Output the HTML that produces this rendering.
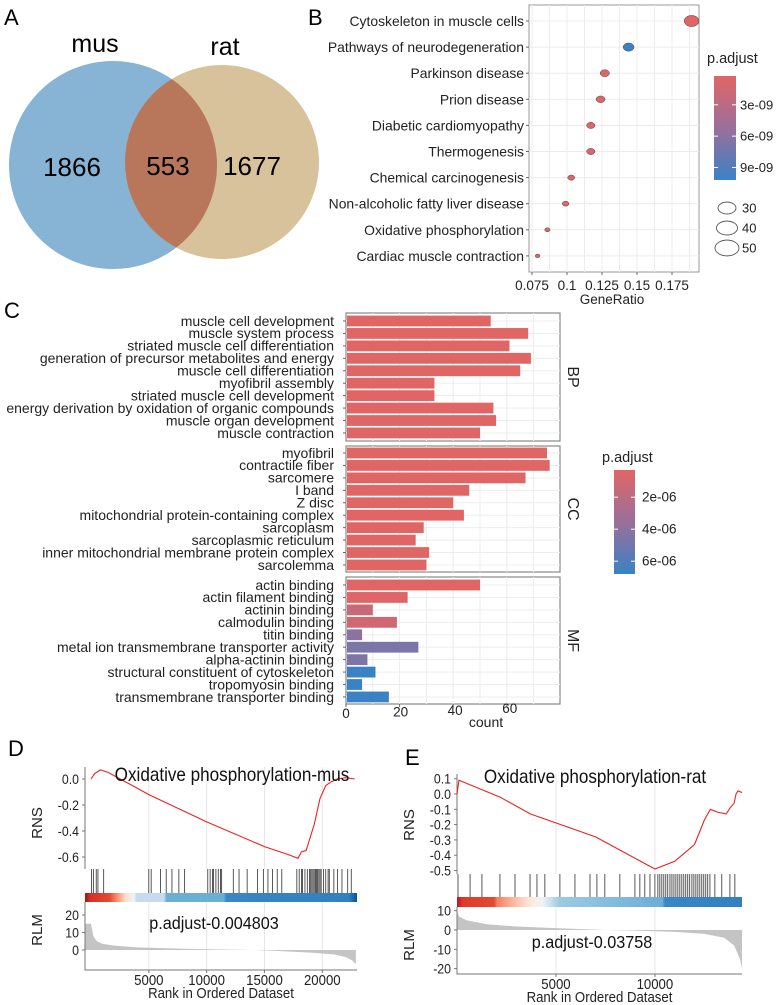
<!DOCTYPE html>
<html><head><meta charset="utf-8"><style>
body{margin:0;background:#fff;}
svg{display:block;font-family:"Liberation Sans",sans-serif;}
</style></head><body>
<svg id="fig" width="777" height="1005" viewBox="0 0 777 1005" xmlns="http://www.w3.org/2000/svg">
<defs>
<linearGradient id="gB" x1="0" y1="0" x2="0" y2="1"><stop offset="0" stop-color="#e06666"/><stop offset="0.5" stop-color="#9a6f9a"/><stop offset="1" stop-color="#3a82c4"/></linearGradient>
<linearGradient id="gD" x1="0" y1="0" x2="1" y2="0">
<stop offset="0" stop-color="#a50f15"/><stop offset="0.02" stop-color="#d73027"/><stop offset="0.09" stop-color="#e34a33"/><stop offset="0.12" stop-color="#fc9272"/><stop offset="0.15" stop-color="#fde0d2"/><stop offset="0.18" stop-color="#eef3f8"/><stop offset="0.19" stop-color="#c6dbef"/><stop offset="0.29" stop-color="#c6dbef"/><stop offset="0.3" stop-color="#6baed6"/><stop offset="0.51" stop-color="#6baed6"/><stop offset="0.52" stop-color="#3b86c4"/><stop offset="0.97" stop-color="#3180c0"/><stop offset="1" stop-color="#08519c"/></linearGradient>
<linearGradient id="gE" x1="0" y1="0" x2="1" y2="0">
<stop offset="0" stop-color="#b2182b"/><stop offset="0.02" stop-color="#e0392b"/><stop offset="0.13" stop-color="#e34a33"/><stop offset="0.14" stop-color="#f47f61"/><stop offset="0.2" stop-color="#fcbba1"/><stop offset="0.26" stop-color="#fde9e0"/><stop offset="0.3" stop-color="#eef3f8"/><stop offset="0.36" stop-color="#9ecae1"/><stop offset="0.72" stop-color="#6baed6"/><stop offset="0.73" stop-color="#3b86c4"/><stop offset="1" stop-color="#3180c0"/></linearGradient>
</defs>

<g>
<text x="4" y="25" font-size="22">A</text>
<circle cx="113" cy="165" r="104" fill="#87b3d4"/>
<circle cx="222" cy="162" r="97" fill="#d7c29b"/>
<clipPath id="cm"><circle cx="113" cy="165" r="104"/></clipPath>
<circle cx="222" cy="162" r="97" fill="#b8775a" clip-path="url(#cm)"/>
<text x="95" y="52" font-size="25" text-anchor="middle">mus</text>
<text x="225" y="55" font-size="25" text-anchor="middle">rat</text>
<text x="72" y="176" font-size="26" text-anchor="middle">1866</text>
<text x="168" y="175" font-size="26" text-anchor="middle">553</text>
<text x="252" y="175" font-size="26" text-anchor="middle">1677</text>
</g>

<text x="308" y="25" font-size="22">B</text>
<text x="4" y="318" font-size="22">C</text>
<text x="8" y="756" font-size="22">D</text>
<text x="405" y="765" font-size="22">E</text>

<g id="pB"></g>
<g id="pC"></g>
<g id="pD"></g>
<g id="pE"></g>
</svg>
<script>
// ---- Panel B data ----
const keggTerms = ["Cytoskeleton in muscle cells","Pathways of neurodegeneration","Parkinson disease","Prion disease","Diabetic cardiomyopathy","Thermogenesis","Chemical carcinogenesis","Non-alcoholic fatty liver disease","Oxidative phosphorylation","Cardiac muscle contraction"];
const keggRatio = [0.189,0.144,0.127,0.124,0.117,0.117,0.103,0.099,0.086,0.079];
const keggCount = [53,41,36,35,33,33,29,28,24,22];
const keggPadj = [0.4e-9,10.2e-9,0.5e-9,0.5e-9,0.5e-9,0.5e-9,0.5e-9,0.6e-9,0.6e-9,0.6e-9];
const keggTicks = [0.075,0.1,0.125,0.15,0.175];
const keggTickLabels = ["0.075","0.1","0.125","0.15","0.175"];
const keggColorTicks = [3e-9,6e-9,9e-9];
const keggColorLabels = ["3e-09","6e-09","9e-09"];
const keggSizeLegend = [30,40,50];

// ---- Panel C data ----
const goBP = ["muscle cell development","muscle system process","striated muscle cell differentiation","generation of precursor metabolites and energy","muscle cell differentiation","myofibril assembly","striated muscle cell development","energy derivation by oxidation of organic compounds","muscle organ development","muscle contraction"];
const goBPCount = [54,68,61,69,65,33,33,55,56,50];
const goBPPadj = [0.3e-6,0.3e-6,0.3e-6,0.3e-6,0.3e-6,0.3e-6,0.3e-6,0.3e-6,0.3e-6,0.3e-6];
const goCC = ["myofibril","contractile fiber","sarcomere","I band","Z disc","mitochondrial protein-containing complex","sarcoplasm","sarcoplasmic reticulum","inner mitochondrial membrane protein complex","sarcolemma"];
const goCCCount = [75,76,67,46,40,44,29,26,31,30];
const goCCPadj = [0.3e-6,0.3e-6,0.3e-6,0.3e-6,0.3e-6,0.3e-6,0.3e-6,0.3e-6,0.3e-6,0.3e-6];
const goMF = ["actin binding","actin filament binding","actinin binding","calmodulin binding","titin binding","metal ion transmembrane transporter activity","alpha-actinin binding","structural constituent of cytoskeleton","tropomyosin binding","transmembrane transporter binding"];
const goMFCount = [50,23,10,19,6,27,8,11,6,16];
const goMFPadj = [0.3e-6,0.4e-6,1.4e-6,1.0e-6,4.0e-6,4.6e-6,4.5e-6,6.8e-6,6.8e-6,6.8e-6];
const goTicks = [0,20,40,60];
const goColorTicks = [2e-6,4e-6,6e-6];
const goColorLabels = ["2e-06","4e-06","6e-06"];

// ---- Panel D data ----
const dRank = [0,300,800,1500,5000,10000,15000,17000,17900,18200,18600,19300,19800,20300,20800,21300,22000,22800];
const dES = [0,0.04,0.07,0.05,-0.12,-0.33,-0.52,-0.58,-0.61,-0.56,-0.55,-0.35,-0.15,-0.05,-0.02,0.0,0.01,0.0];
const dHits = [50,200,450,600,1100,5000,5200,6000,6500,7000,7600,8100,10100,10300,10500,10600,10800,11000,11200,11300,12300,12800,13500,14400,14900,15300,15700,16100,16500,17800,18000,18200,18300,18500,18700,18900,19000,19100,19200,19300,19400,19500,19600,19700,19800,19900,20100,20300,20500,20600,21000,21300,21700,22200,22500];
const dRlmRank = [0,200,500,1000,2000,4000,8000,12000,14000,16000,19000,21000,22000,22600,22900];
const dRlm = [15,8,5,3.5,2.5,1.5,0.7,0.2,0,-0.5,-1.5,-2.5,-4,-6,-8];
const dYTicks = [0.0,-0.2,-0.4,-0.6];
const dYTickLabels = ["0.0","-0.2","-0.4","-0.6"];
const dRlmTicks = [20,10,0];
const dXTicks = [5000,10000,15000,20000];

// ---- Panel E data ----
const eRank = [0,100,2170,3700,7000,10000,11000,12000,12500,12800,13200,13600,13800,14000,14100,14200,14400];
const eES = [0,0.09,-0.02,-0.13,-0.28,-0.49,-0.44,-0.33,-0.17,-0.10,-0.12,-0.13,-0.09,-0.06,0.0,0.02,0.01];
const eHits = [50,660,1260,2170,2930,3690,4040,4440,5200,5960,6720,7070,7470,8230,8990,9240,9490,9750,10000,10150,10250,10350,10450,10550,10650,10760,10860,10960,11060,11160,11260,11360,11460,11560,11660,11760,11870,11970,12070,12170,12270,12370,12470,12570,12670,12780,13030,13380,13790,14040];
const eRlmRank = [0,100,500,1500,3000,5000,7500,9000,11000,12500,13500,14000,14300,14400];
const eRlm = [10,7,5,3,1.8,1,0,-0.3,-1,-2,-4,-8,-15,-20];
const eYTicks = [0.1,0.0,-0.1,-0.2,-0.3,-0.4,-0.5];
const eYTickLabels = ["0.1","0.0","-0.1","-0.2","-0.3","-0.4","-0.5"];
const eRlmTicks = [10,0,-10,-20];
const eXTicks = [5000,10000];

const NS="http://www.w3.org/2000/svg";
function mk(parent, tag, attrs, txt){const e=document.createElementNS(NS,tag);for(const k in attrs)e.setAttribute(k,attrs[k]);if(txt!==undefined)e.textContent=txt;parent.appendChild(e);return e;}
function lerp(a,b,t){return a+(b-a)*t;}
function mixColor(t){t=Math.max(0,Math.min(1,t));const r=[224,102,102],m=[154,111,154],b=[58,130,196];let c;if(t<0.5){const u=t/0.5;c=r.map((v,i)=>lerp(v,m[i],u));}else{const u=(t-0.5)/0.5;c=m.map((v,i)=>lerp(v,b[i],u));}return `rgb(${c.map(Math.round).join(",")})`;}

// ===== Panel B =====
(function(){
const g=document.getElementById('pB');
const L=529,R=699,T=5,B=272;
const x=v=>532+(v-0.075)*1400;
const y=i=>21+i*26.1;
let el=mk(g,'rect',{x:L,y:T,width:R-L,height:B-T,fill:'#fff',stroke:'#999','stroke-width':1});


for(let v=0.0625;v<0.2;v+=0.0125){const xv=x(v);if(xv<L||xv>R)continue;mk(g,'line',{x1:xv,x2:xv,y1:T,y2:B,stroke:'#ececec','stroke-width':1});}
keggTerms.forEach((t,i)=>{mk(g,'line',{x1:L,x2:R,y1:y(i),y2:y(i),stroke:'#ececec'});
 el=mk(g,'text',{x:524,y:y(i)+5,'font-size':13.9,'text-anchor':'end',fill:'#222'},t);
 
 
 mk(g,'line',{x1:L-3,x2:L,y1:y(i),y2:y(i),stroke:'#666'});
});
keggTicks.forEach((v,i)=>{mk(g,'line',{x1:x(v),x2:x(v),y1:B,y2:B+3,stroke:'#666'});
 el=mk(g,'text',{x:x(v),y:290,'font-size':13.5,'text-anchor':'middle',fill:'#222'},keggTickLabels[i]);
 
 });
el=mk(g,'text',{x:612,y:304,'font-size':13.5,'text-anchor':'middle',fill:'#222'},'GeneRatio');


const pTop=0.24e-9,pBot=10.2e-9;
keggRatio.forEach((v,i)=>{const rx=0.165*keggCount[i]-1.3;
 el=mk(g,'ellipse',{cx:x(v),cy:y(i),rx:rx,ry:rx*0.75,fill:mixColor((keggPadj[i]-pTop)/(pBot-pTop)),stroke:'#444','stroke-width':0.5});
 
 });
el=mk(g,'text',{x:707,y:63,'font-size':14.5,fill:'#222'},'p.adjust');


el=mk(g,'rect',{x:714,y:76,width:22,height:104,fill:'url(#gB)'});


keggColorTicks.forEach((v,i)=>{const yy=76+(v-pTop)/(pBot-pTop)*104;
 mk(g,'line',{x1:714,x2:718,y1:yy,y2:yy,stroke:'#fff'});mk(g,'line',{x1:732,x2:736,y1:yy,y2:yy,stroke:'#fff'});
 el=mk(g,'text',{x:740,y:yy+4.5,'font-size':13,fill:'#222'},keggColorLabels[i]);
 
 });
keggSizeLegend.forEach((c,i)=>{const yy=208+i*20;const rx=9+i*1.5;
 el=mk(g,'ellipse',{cx:727,cy:yy,rx:rx,ry:rx*0.66,fill:'none',stroke:'#444','stroke-width':0.8});
 
 
 el=mk(g,'text',{x:742,y:yy+4.5,'font-size':13,fill:'#222'},String(c));
 
 });
})();

// ===== Panel C =====
(function(){
const g=document.getElementById('pC');
const L=346,R=560;
const x=v=>346+v*2.68;
const pTop=0.3e-6,pBot=6.8e-6;
const panels=[{n:'BP',top:313,bot:441,y0:321,terms:goBP,cnt:goBPCount,p:goBPPadj},{n:'CC',top:446,bot:572,y0:453,terms:goCC,cnt:goCCCount,p:goCCPadj},{n:'MF',top:577,bot:704,y0:585,terms:goMF,cnt:goMFCount,p:goMFPadj}];
let el;
panels.forEach(P=>{
 el=mk(g,'rect',{x:L,y:P.top,width:R-L,height:P.bot-P.top,fill:'#fff',stroke:'#888','stroke-width':1.2});
 
 
 for(let v=10;v<80;v+=10)mk(g,'line',{x1:x(v),x2:x(v),y1:P.top,y2:P.bot,stroke:'#ededed'});
 P.terms.forEach((t,i)=>{const yy=P.y0+i*12.44;
  mk(g,'line',{x1:L,x2:R,y1:yy,y2:yy,stroke:'#ededed'});
  el=mk(g,'rect',{x:L+1,y:yy-5.4,width:x(P.cnt[i])-L-1,height:10.8,fill:mixColor((P.p[i]-pTop)/(pBot-pTop))});
  
  
  el=mk(g,'text',{x:334,y:yy+4.8,'font-size':14,'text-anchor':'end',fill:'#222'},t);
  
  
  mk(g,'line',{x1:L-3,x2:L,y1:yy,y2:yy,stroke:'#666'});});
 const cy=(P.top+P.bot)/2;
 el=mk(g,'text',{x:568,y:cy,'font-size':16,'text-anchor':'middle',transform:`rotate(90 568 ${cy})`,fill:'#222'},P.n);
 
 
});
goTicks.forEach(v=>{mk(g,'line',{x1:x(v),x2:x(v),y1:704,y2:707,stroke:'#666'});
 el=mk(g,'text',{x:x(v)+v*0.05,y:718-v*0.08,'font-size':13.5,'text-anchor':'middle',fill:'#222'},String(v));
 
 });
el=mk(g,'text',{x:486,y:727,'font-size':14,'text-anchor':'middle',fill:'#222'},'count');


el=mk(g,'text',{x:602,y:462,'font-size':14.5,fill:'#222'},'p.adjust');


el=mk(g,'rect',{x:614,y:470,width:21,height:104,fill:'url(#gB)'});


goColorTicks.forEach((v,i)=>{const yy=470+(v-pTop)/(pBot-pTop)*104;
 mk(g,'line',{x1:614,x2:618,y1:yy,y2:yy,stroke:'#fff'});mk(g,'line',{x1:631,x2:635,y1:yy,y2:yy,stroke:'#fff'});
 el=mk(g,'text',{x:642,y:yy+4.5,'font-size':13.5,fill:'#222'},goColorLabels[i]);
 
 });
})();

// ===== GSEA panels =====
function gsea(id,cfg){
 const g=document.getElementById(id);let el;
 const x=r=>cfg.x0+r/cfg.N*(cfg.R-cfg.x0);
 const yE=v=>cfg.y0+(-v)*cfg.esPx;
 const yR=v=>cfg.rlm0-v*cfg.rlmPx;
 cfg.xt.forEach(r=>{mk(g,'line',{x1:x(r),x2:x(r),y1:cfg.esTop,y2:cfg.hitTop,stroke:'#e6e6e6'});mk(g,'line',{x1:x(r),x2:x(r),y1:cfg.barBot,y2:cfg.rlmBot,stroke:'#e6e6e6'});});
 mk(g,'line',{x1:cfg.L,x2:cfg.L,y1:cfg.esTop,y2:cfg.hitTop,stroke:'#777'});
 cfg.yt.forEach((v,i)=>{mk(g,'line',{x1:cfg.L-3,x2:cfg.L,y1:yE(v),y2:yE(v),stroke:'#777'});
  el=mk(g,'text',{x:cfg.L-6,y:yE(v)+5,'font-size':14,'text-anchor':'end',fill:'#222',transform:`translate(${(cfg.L-6)*0.12} 0) scale(0.88 1)`},cfg.ytl[i]);
  
  });
 el=mk(g,'text',{x:cfg.ylx,y:cfg.yly,'font-size':15,'text-anchor':'middle',transform:`rotate(-90 ${cfg.ylx} ${cfg.yly})`,fill:'#222'},'RNS');
 
 
 el=mk(g,'polyline',{points:cfg.rank.map((r,i)=>x(r)+','+yE(cfg.es[i])).join(' '),fill:'none',stroke:'#e8231f','stroke-width':1.1});
 
 
 el=mk(g,'text',{x:cfg.tx,y:cfg.ty,'font-size':19,'text-anchor':'middle',fill:'#111',transform:`translate(${cfg.tx*0.1} 0) scale(0.9 1)`},cfg.title);
 
 
 cfg.hits.forEach(r=>{el=mk(g,'line',{x1:x(r),x2:x(r),y1:cfg.hitTop,y2:cfg.barTop,stroke:'#111','stroke-width':0.7});
  
  });
 el=mk(g,'rect',{x:cfg.L,y:cfg.barTop,width:cfg.R-cfg.L,height:cfg.barBot-cfg.barTop,fill:`url(#${cfg.grad})`});
 
 
 const last=cfg.rr[cfg.rr.length-1];
 el=mk(g,'polygon',{points:[cfg.L+','+yR(0),cfg.L+','+yR(cfg.rv[0])].concat(cfg.rr.map((r,i)=>x(r)+','+yR(cfg.rv[i]))).concat([x(last)+','+yR(0)]).join(' '),fill:'#c4c4c4'});
 
 
 mk(g,'polyline',{points:`${cfg.L},${cfg.barBot} ${cfg.L},${cfg.rlmBot} ${cfg.R},${cfg.rlmBot}`,fill:'none',stroke:'#777'});
 cfg.rt.forEach(v=>{mk(g,'line',{x1:cfg.L-3,x2:cfg.L,y1:yR(v),y2:yR(v),stroke:'#777'});
  el=mk(g,'text',{x:cfg.L-6,y:yR(v)+5,'font-size':14,'text-anchor':'end',fill:'#222',transform:`translate(${(cfg.L-6)*0.12} 0) scale(0.88 1)`},String(v));
  
  });
 el=mk(g,'text',{x:cfg.rlx,y:cfg.rly,'font-size':15,'text-anchor':'middle',transform:`rotate(-90 ${cfg.rlx} ${cfg.rly})`,fill:'#222'},'RLM');
 
 
 el=mk(g,'text',{x:cfg.px,y:cfg.py,'font-size':18,'text-anchor':'middle',fill:'#111',transform:`translate(${cfg.px*0.1} 0) scale(0.9 1)`},cfg.ptxt);
 
 
 cfg.xt.forEach(r=>{mk(g,'line',{x1:x(r),x2:x(r),y1:cfg.rlmBot,y2:cfg.rlmBot+3,stroke:'#777'});
  el=mk(g,'text',{x:x(r),y:cfg.rlmBot+15,'font-size':15,'text-anchor':'middle',fill:'#222',transform:`translate(${x(r)*0.12} 0) scale(0.88 1)`},String(r));
  
  });
 const cx=(cfg.L+cfg.R)/2;
 el=mk(g,'text',{x:cx,y:cfg.rlmBot+28,'font-size':15,'text-anchor':'middle',fill:'#222',transform:`translate(${cx*0.12} 0) scale(0.88 1)`},'Rank in Ordered Dataset');
 
 
}
gsea('pD',{L:85,x0:91,R:357,N:23000,esTop:767,y0:779,esPx:130,hitTop:869,barTop:893,barBot:902,rlm0:950,rlmPx:1.75,rlmBot:970,
 rank:dRank,es:dES,hits:dHits,rr:dRlmRank,rv:dRlm,yt:dYTicks,ytl:dYTickLabels,rt:dRlmTicks,xt:dXTicks,grad:'gD',
 title:'Oxidative phosphorylation-mus',tx:232,ty:781,ptxt:'p.adjust-0.004803',px:214,py:929,ylx:42,yly:823,rlx:42,rly:930});
gsea('pE',{L:457,x0:457,R:742,N:14400,esTop:774,y0:794,esPx:153,hitTop:874,barTop:897,barBot:907,rlm0:930,rlmPx:1.93,rlmBot:974,
 rank:eRank,es:eES,hits:eHits,rr:eRlmRank,rv:eRlm,yt:eYTicks,ytl:eYTickLabels,rt:eRlmTicks,xt:eXTicks,grad:'gE',
 title:'Oxidative phosphorylation-rat',tx:595,ty:783,ptxt:'p.adjust-0.03758',px:592,py:948,ylx:414,yly:825,rlx:414,rly:945});
</script>
</body></html>
